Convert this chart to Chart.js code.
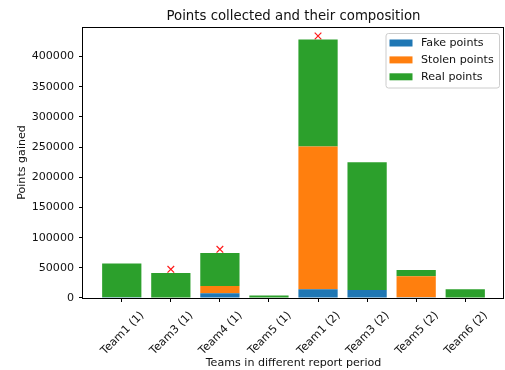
<!DOCTYPE html>
<html>
<head>
<meta charset="utf-8">
<script src="https://cdn.jsdelivr.net/npm/chart.js@4/dist/chart.umd.min.js"></script>
<style>
  html, body { margin: 0; padding: 0; background: #fff; }
  #wrap { width: 505px; height: 370px; }
</style>
</head>
<body>
<div id="wrap"><canvas id="c" width="505" height="370"></canvas></div>
<script>
// Teams per report period and their point breakdown
const categories = ['Team1 (1)', 'Team3 (1)', 'Team4 (1)', 'Team5 (1)', 'Team1 (2)', 'Team3 (2)', 'Team5 (2)', 'Team6 (2)'];
const fakePoints   = [1200, 1000, 7800, 0, 14400, 13300, 1200, 0];
const stolenPoints = [0, 0, 12100, 0, 236500, 0, 34800, 0];
const realPoints   = [55800, 40400, 54700, 4000, 177300, 211600, 10400, 14400];
// Reported totals shown as red crosses (null where none reported)
const reportedTotals = [null, 47500, 80700, null, 434000, null, null, null];
const yTicks = [0, 50000, 100000, 150000, 200000, 250000, 300000, 350000, 400000];

const FONT = "'DejaVu Sans', sans-serif";
const TEXT = '#111';
const LABEL_SIZE = 11.1;
const TITLE_SIZE = 13.3;

const toPoints = arr => arr.map((v, i) => ({ x: i, y: v }));

// Legend box drawn inside the plot area (upper right)
const innerLegend = {
  id: 'innerLegend',
  afterDraw(chart) {
    const ctx = chart.ctx;
    const items = chart.data.datasets.filter(d => d.type === 'bar');
    const x0 = 386, y0 = 33.5, w = 113.5, h = 54.5;
    ctx.save();
    ctx.beginPath();
    if (ctx.roundRect) ctx.roundRect(x0, y0, w, h, 2.5); else ctx.rect(x0, y0, w, h);
    ctx.fillStyle = 'rgba(255,255,255,0.8)';
    ctx.fill();
    ctx.strokeStyle = '#cccccc';
    ctx.lineWidth = 1;
    ctx.stroke();
    ctx.font = LABEL_SIZE + 'px ' + FONT;
    ctx.textBaseline = 'middle';
    ctx.textAlign = 'left';
    items.forEach((d, i) => {
      const cy = 43 + i * 16.9;
      ctx.fillStyle = d.backgroundColor;
      ctx.fillRect(389.5, cy - 3.5, 23, 7);
      ctx.fillStyle = TEXT;
      ctx.fillText(d.label, 421, cy + 0.5);
    });
    ctx.restore();
  }
};

// Four-sided frame around the plot area
const frame = {
  id: 'frame',
  afterDatasetsDraw(chart) {
    const { left, right, top, bottom } = chart.chartArea;
    const ctx = chart.ctx;
    ctx.save();
    ctx.strokeStyle = '#000';
    ctx.lineWidth = 1;
    ctx.strokeRect(Math.round(left) - 0.5, Math.round(top) + 0.5, Math.round(right - left), Math.round(bottom - top));
    ctx.restore();
  }
};

new Chart(document.getElementById('c'), {
  data: {
    datasets: [
      { type: 'bar', label: 'Fake points',   data: toPoints(fakePoints),   backgroundColor: '#1f77b4', stack: 's' },
      { type: 'bar', label: 'Stolen points', data: toPoints(stolenPoints), backgroundColor: '#ff7f0e', stack: 's' },
      { type: 'bar', label: 'Real points',   data: toPoints(realPoints),   backgroundColor: '#2ca02c', stack: 's' },
      {
        type: 'line', label: 'Reported', yAxisID: 'y2',
        data: toPoints(reportedTotals).filter(p => p.y !== null),
        showLine: false, pointStyle: 'crossRot', pointRadius: 4.7,
        borderColor: 'rgba(255,0,0,0.9)', borderWidth: 1.2, backgroundColor: 'rgba(255,0,0,0.9)',
        clip: false
      }
    ]
  },
  options: {
    responsive: false,
    animation: false,
    devicePixelRatio: 1,
    layout: { autoPadding: false, padding: { left: 0, right: 1, top: 0, bottom: 0 } },
    datasets: { bar: { barPercentage: 0.8, categoryPercentage: 1.0, borderWidth: 0 } },
    plugins: {
      legend: { display: false },
      tooltip: { enabled: false },
      title: {
        display: true,
        fullSize: false,
        text: 'Points collected and their composition',
        color: TEXT,
        font: { family: FONT, size: TITLE_SIZE, weight: 'normal' },
        padding: { top: 8.7, bottom: 2.3 }
      }
    },
    scales: {
      x: {
        type: 'linear',
        stacked: true,
        offset: false,
        min: -0.79,
        max: 7.79,
        afterBuildTicks: scale => { scale.ticks = categories.map((_, i) => ({ value: i })); },
        afterFit: scale => { scale.height = 72; scale.paddingLeft = 0; scale.paddingRight = 0; },
        grid: { offset: false, drawOnChartArea: false, drawTicks: true, tickLength: 4, color: '#000' },
        border: { display: false },
        ticks: {
          autoSkip: false,
          maxRotation: 45,
          minRotation: 45,
          padding: 7,
          labelOffset: 20.5,
          color: TEXT,
          font: { family: FONT, size: LABEL_SIZE },
          callback: v => categories[v] ?? ''
        },
        title: {
          display: true,
          text: 'Teams in different report period',
          color: TEXT,
          font: { family: FONT, size: LABEL_SIZE },
          padding: { top: 0, bottom: 0.5 }
        }
      },
      y: {
        type: 'linear',
        stacked: true,
        min: 0,
        max: 449000,
        afterBuildTicks: scale => { scale.ticks = yTicks.map(v => ({ value: v })); },
        afterFit: scale => { scale.width = 83; },
        grid: { drawOnChartArea: false, drawTicks: true, tickLength: 4, color: '#000' },
        border: { display: false },
        ticks: {
          padding: 5,
          color: TEXT,
          font: { family: FONT, size: LABEL_SIZE },
          callback: v => String(v)
        },
        title: {
          display: true,
          text: 'Points gained',
          color: TEXT,
          font: { family: FONT, size: LABEL_SIZE },
          padding: { top: 15, bottom: 0 }
        }
      },
      y2: {
        type: 'linear',
        display: false,
        min: 0,
        max: 449000
      }
    }
  },
  plugins: [frame, innerLegend]
});
</script>
</body>
</html>
